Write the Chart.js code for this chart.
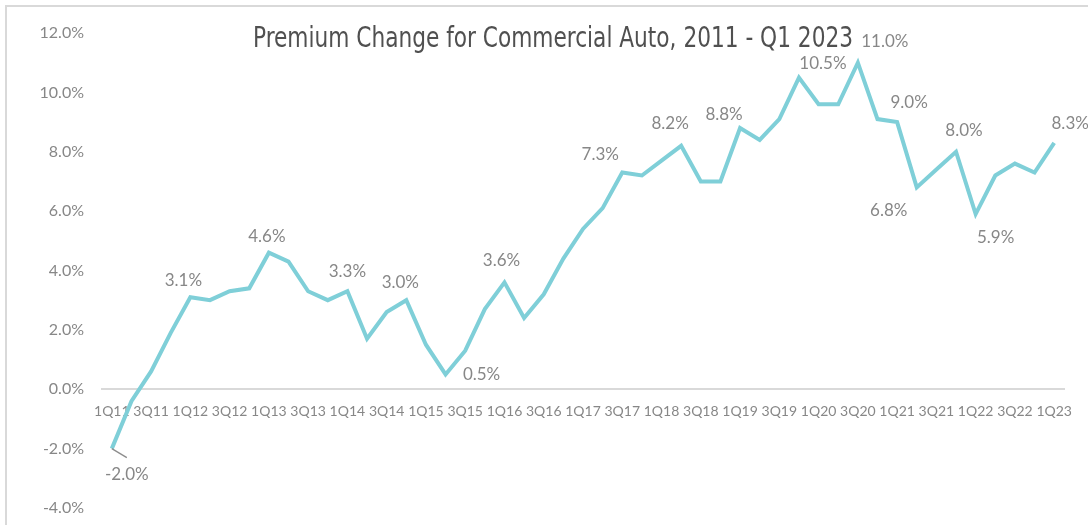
<!DOCTYPE html>
<html>
<head>
<meta charset="utf-8">
<script src="https://cdn.jsdelivr.net/npm/chart.js@4/dist/chart.umd.min.js"></script>
<style>
  html, body { margin: 0; padding: 0; background: #ffffff; }
  #wrap { position: relative; width: 1088px; height: 525px; overflow: hidden; }
  #frame { position: absolute; left: 5px; top: 5px; width: 1200px; height: 600px;
           border-left: 2px solid #d9d9d9; border-top: 2px solid #d9d9d9; }
  #c { position: absolute; left: 0; top: 0; }
</style>
</head>
<body>
<div id="wrap">
  <div id="frame"></div>
  <canvas id="c" width="1088" height="525"></canvas>
</div>
<script>
// ---- data ----
const quarters = [
  '1Q11','2Q11','3Q11','4Q11','1Q12','2Q12','3Q12','4Q12','1Q13','2Q13','3Q13','4Q13',
  '1Q14','2Q14','3Q14','4Q14','1Q15','2Q15','3Q15','4Q15','1Q16','2Q16','3Q16','4Q16',
  '1Q17','2Q17','3Q17','4Q17','1Q18','2Q18','3Q18','4Q18','1Q19','2Q19','3Q19','4Q19',
  '1Q20','2Q20','3Q20','4Q20','1Q21','2Q21','3Q21','4Q21','1Q22','2Q22','3Q22','4Q22',
  '1Q23'
];
const premiumChange = [
  -2.0, -0.4, 0.6, 1.9, 3.1, 3.0, 3.3, 3.4, 4.6, 4.3, 3.3, 3.0,
  3.3, 1.7, 2.6, 3.0, 1.5, 0.5, 1.3, 2.7, 3.6, 2.4, 3.2, 4.4,
  5.4, 6.1, 7.3, 7.2, 7.7, 8.2, 7.0, 7.0, 8.8, 8.4, 9.1, 10.5,
  9.6, 9.6, 11.0, 9.1, 9.0, 6.8, 7.4, 8.0, 5.9, 7.2, 7.6, 7.3,
  8.3
];
const labeledQuarters = ['1Q11','1Q12','1Q13','1Q14','4Q14','2Q15','1Q16','3Q17','2Q18','1Q19',
                         '4Q19','3Q20','1Q21','2Q21','4Q21','1Q22','1Q23'];
const yTickValues = [-4, -2, 0, 2, 4, 6, 8, 10, 12];
const titleText = 'Premium Change for Commercial Auto, 2011 - Q1 2023';

// ---- label placement (pixel offsets from the point) ----
const labelOffsets = {
  '1Q11': [15, 26], '1Q12': [-7, -17], '1Q13': [-2, -16], '1Q14': [0, -20], '4Q14': [-6, -18],
  '2Q15': [36, 0], '1Q16': [-3, -22], '3Q17': [-22, -18], '2Q18': [-11, -22], '1Q19': [-16, -13],
  '4Q19': [24, -14], '3Q20': [27, -21], '1Q21': [12, -20], '2Q21': [-28, 23], '4Q21': [8, -21],
  '1Q22': [20, 23], '1Q23': [16, -19]
};

const labelColor = '#878787';

const overlayPlugin = {
  id: 'overlay',
  afterDatasetsDraw(chart) {
    const ctx = chart.ctx;
    const meta = chart.getDatasetMeta(0);
    ctx.save();
    const p0 = meta.data[0];
    ctx.strokeStyle = '#8c8c8c';
    ctx.lineWidth = 1.3;
    ctx.beginPath();
    ctx.moveTo(p0.x, p0.y);
    ctx.lineTo(p0.x + 15, p0.y + 9);
    ctx.stroke();
    ctx.font = '17px Lato, "Open Sans", sans-serif';
    ctx.fillStyle = labelColor;
    ctx.textAlign = 'center';
    ctx.textBaseline = 'middle';
    labeledQuarters.forEach(q => {
      const i = quarters.indexOf(q);
      const pt = meta.data[i];
      const off = labelOffsets[q] || [0, -18];
      ctx.fillText(premiumChange[i].toFixed(1) + '%', pt.x + off[0], pt.y + off[1]);
    });
    ctx.font = '29px "Liberation Sans Narrow", "DejaVu Sans Condensed", "Roboto Condensed", "Liberation Sans", sans-serif';
    ctx.fillStyle = '#505050';
    ctx.textAlign = 'center';
    ctx.textBaseline = 'alphabetic';
    const w = ctx.measureText(titleText).width;
    const target = 600;
    ctx.translate(553, 47);
    ctx.scale(target / w, 1);
    ctx.fillText(titleText, 0, 0);
    ctx.restore();
  }
};

new Chart(document.getElementById('c'), {
  type: 'line',
  data: {
    labels: quarters,
    datasets: [{
      data: premiumChange,
      borderColor: '#7fcfd8',
      borderWidth: 4,
      pointRadius: 0,
      tension: 0,
      fill: false,
      clip: false
    }]
  },
  options: {
    responsive: false,
    animation: false,
    devicePixelRatio: 1,
    layout: { padding: { left: 0, right: 24, top: 33, bottom: 17 } },
    plugins: { legend: { display: false }, tooltip: { enabled: false }, title: { display: false } },
    scales: {
      x: {
        type: 'category',
        position: { y: 0 },
        offset: true,
        grid: { display: false, drawTicks: false },
        border: { display: true, color: '#d9d9d9', width: 2 },
        ticks: {
          autoSkip: false,
          maxRotation: 0,
          minRotation: 0,
          padding: 14,
          color: labelColor,
          font: { family: 'Lato', size: 14 },
          callback: function(val, idx) { return idx % 2 === 0 ? quarters[idx] : ''; }
        }
      },
      y: {
        min: -4,
        max: 12,
        afterBuildTicks: (scale) => { scale.ticks = yTickValues.map(v => ({ value: v })); },
        afterFit: (scale) => { scale.width = 102; },
        grid: { display: false, drawTicks: true, tickLength: 18 },
        border: { display: false },
        ticks: {
          padding: 0,
          color: labelColor,
          font: { family: 'Lato', size: 16 },
          callback: (v) => Number(v).toFixed(1) + '%'
        }
      }
    }
  },
  plugins: [overlayPlugin]
});
</script>
</body>
</html>
